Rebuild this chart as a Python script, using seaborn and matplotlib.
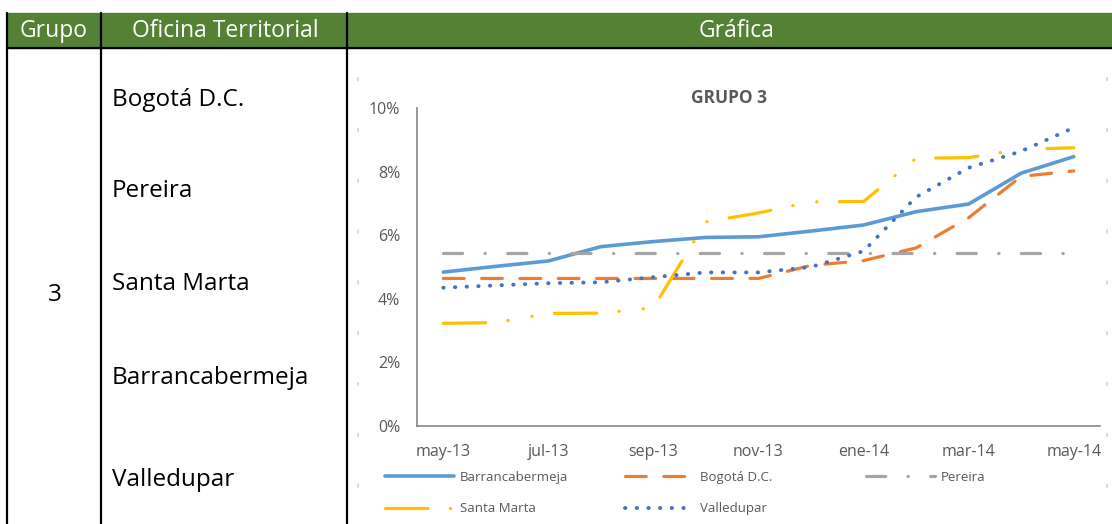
import pandas as pd
import seaborn as sns
import matplotlib.pyplot as plt
from matplotlib.lines import Line2D
from matplotlib.patches import Rectangle
from matplotlib.ticker import PercentFormatter

# data (values in %)
meses = ['may-13', 'jun-13', 'jul-13', 'ago-13', 'sep-13', 'oct-13', 'nov-13',
         'dic-13', 'ene-14', 'feb-14', 'mar-14', 'abr-14', 'may-14']
barrancabermeja = [4.84, 5.02, 5.19, 5.64, 5.80, 5.93, 5.95, 6.13, 6.32, 6.74, 6.98, 7.95, 8.47]
bogota = [4.64, 4.64, 4.64, 4.64, 4.64, 4.64, 4.64, 5.05, 5.20, 5.60, 6.55, 7.85, 8.02]
pereira = [5.45] * 13
santa_marta = [3.23, 3.25, 3.54, 3.55, 3.72, 6.42, 6.70, 7.05, 7.06, 8.42, 8.44, 8.70, 8.75]
valledupar = [4.35, 4.42, 4.49, 4.52, 4.68, 4.83, 4.83, 5.00, 5.50, 7.20, 8.12, 8.64, 9.38]

oficinas = ['Bogotá D.C.', 'Pereira', 'Santa Marta', 'Barrancabermeja', 'Valledupar']

W, H = 1112, 524


def fx(x):
    return x / W


def fy(y):
    return 1 - y / H


sns.set_theme(style='white')
plt.rcParams['font.family'] = ['Open Sans', 'DejaVu Sans']

fig = plt.figure(figsize=(W / 100, H / 100), dpi=100)

# table frame
verde = '#548235'
fig.patches.append(Rectangle((fx(7), fy(48)), fx(W) - fx(7), fy(13) - fy(48),
                             transform=fig.transFigure, color=verde, zorder=0))
fig.add_artist(Line2D([fx(7), 1], [fy(48), fy(48)], color='black', lw=1.6))
for xv in [7, 101, 347]:
    fig.add_artist(Line2D([fx(xv), fx(xv)], [fy(13), 0], color='black', lw=1.6))

fig.text(fx(54), fy(31), 'Grupo', color='white', fontsize=16.5, ha='center', va='center')
fig.text(fx(225), fy(31), 'Oficina Territorial', color='white', fontsize=16.5, ha='center', va='center')
fig.text(fx(737), fy(31), 'Gráfica', color='white', fontsize=16.5, ha='center', va='center')

fig.text(fx(55), fy(301), '3', color='black', fontsize=17.5, ha='center', va='baseline')
for nombre, yb in zip(oficinas, [106, 197, 290, 384, 486]):
    fig.text(fx(112), fy(yb), nombre, color='black', fontsize=17.5, ha='left', va='baseline')

# faint chart-area border marks
for xv in [358, 1107]:
    fig.add_artist(Line2D([fx(xv), fx(xv)], [fy(77), 0], color='#d4d4d4', lw=1.2,
                          linestyle=(0, (2.5, 28))))

# chart
ax = fig.add_axes([fx(417), fy(426), fx(1100) - fx(417), fy(108) - fy(426)])
x = list(range(len(meses)))

series = [
    ('Barrancabermeja', barrancabermeja, '#5B9BD5', 2.6, '-'),
    ('Bogotá D.C.', bogota, '#ED7D31', 2.3, (0, (6.5, 5.5))),
    ('Pereira', pereira, '#A5A5A5', 2.3, (0, (6, 7, 0.1, 7))),
    ('Santa Marta', santa_marta, '#FFC000', 2.3, (0, (13.3, 7, 0.1, 7.5, 0.1, 7))),
    ('Valledupar', valledupar, '#4472C4', 2.8, (0, (0.1, 2.9))),
]

handles = {}
for nombre, vals, color, lw, ls in series:
    sns.lineplot(x=x, y=vals, ax=ax, color=color, lw=lw, linestyle=ls,
                 dash_capstyle='round', solid_capstyle='round')
    handles[nombre] = Line2D([], [], color=color, lw=lw, linestyle=ls,
                             dash_capstyle='round', solid_capstyle='round')

ax.set_xlim(-0.5, 12.5)
ax.set_ylim(0, 10)
ax.set_yticks([0, 2, 4, 6, 8, 10])
ax.yaxis.set_major_formatter(PercentFormatter(decimals=0))
ax.set_xticks(x[::2])
ax.set_xticklabels(meses[::2])
ax.tick_params(axis='both', length=0, labelsize=11.5, colors='#595959')
ax.tick_params(axis='y', pad=12)
ax.tick_params(axis='x', pad=13)
for s in ['top', 'right']:
    ax.spines[s].set_visible(False)
for s in ['left', 'bottom']:
    ax.spines[s].set_color('#868686')
    ax.spines[s].set_linewidth(1.2)
ax.set_xlabel('')
ax.set_ylabel('')
ax.set_facecolor('none')

fig.text(fx(729), fy(98), 'GRUPO 3', color='#595959', fontsize=12.5, fontweight='bold',
         ha='center', va='center')

# legend, three columns placed like the original
columnas = [(385, ['Barrancabermeja', 'Santa Marta']),
            (625, ['Bogotá D.C.', 'Valledupar']),
            (866, ['Pereira'])]
for x0, nombres in columnas:
    leg = fig.legend([handles[n] for n in nombres], nombres, loc='upper left',
                     bbox_to_anchor=(fx(x0), fy(471)), frameon=False, fontsize=9.5,
                     handlelength=5.2, handletextpad=0.5, labelspacing=1.4,
                     borderpad=0, borderaxespad=0)
    for t in leg.get_texts():
        t.set_color('#595959')

fig.savefig('out.png', dpi=100)
